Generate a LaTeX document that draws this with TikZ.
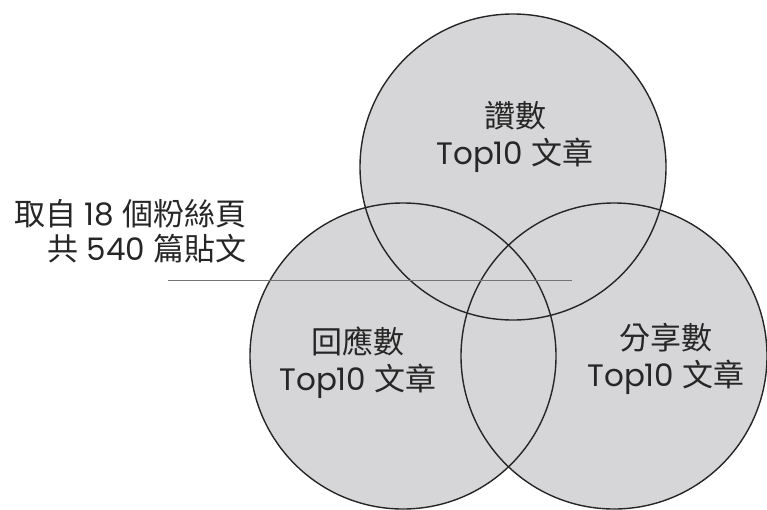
\documentclass[tikz,border=0pt]{standalone}
\usepackage{fontspec}
\setmainfont{Poppins}
\newfontfamily\cjk{Noto Sans CJK TC}
\begin{document}
\begin{tikzpicture}[x=1pt,y=-1pt,
  venn/.style={circle,minimum size=306pt,inner sep=0pt,fill=vfill},
  vennline/.style={circle,minimum size=306pt,inner sep=0pt,draw=black!85,line width=1.4pt},
  lbl/.style={font=\fontsize{31}{37}\selectfont,align=center,text=black!85},
]
\definecolor{vfill}{RGB}{214,214,216}
\useasboundingbox (0,0) rectangle (767,509);
\begin{scope}
\clip (0,0) rectangle (767,509);
\node[venn] (top) at (513,167) {};
\node[venn] (left) at (403,356) {};
\node[venn] (right) at (614,356) {};
\node[vennline] at (top) {};
\node[vennline] at (left) {};
\node[vennline] at (right) {};
\end{scope}
\coordinate (ls) at (168,280);
\coordinate (le) at (572,280);
\draw[black!55,line width=1pt] (ls) -- (le);
\node[lbl,anchor=east,align=right,font=\fontsize{31}{35}\selectfont] (src) at (250,231) {{\cjk 取自} 18 {\cjk 個粉絲頁}\\{\cjk 共} 540 {\cjk 篇貼文}};
\node[lbl] (tl) at (515,137) {{\cjk 讚數}\\Top10 {\cjk 文章}};
\node[lbl] (ll) at (358,363) {{\cjk 回應數}\\Top10 {\cjk 文章}};
\node[lbl] (rl) at (666,359) {{\cjk 分享數}\\Top10 {\cjk 文章}};
\end{tikzpicture}
\end{document}
